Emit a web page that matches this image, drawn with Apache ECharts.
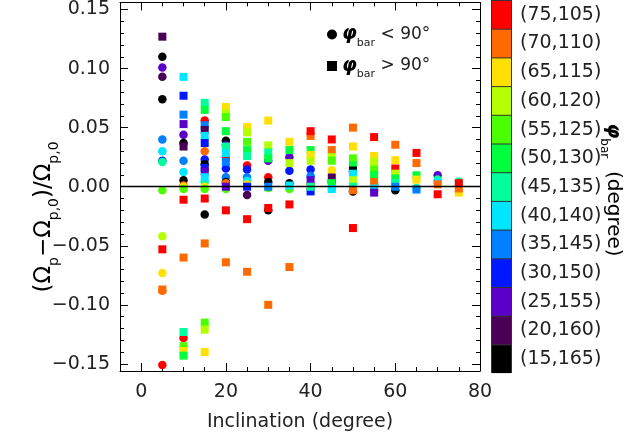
<!DOCTYPE html>
<html>
<head>
<meta charset="utf-8">
<script src="https://cdn.jsdelivr.net/npm/echarts@6/dist/echarts.min.js"></script>
<style>
  html, body { margin: 0; padding: 0; background: #fff; }
  #main { width: 635px; height: 445px; }
</style>
</head>
<body>
<div id="main"></div>
<script>
// phi_bar bins (legend of the colour bar), bottom -> top
var phiBins = ['(15,165)', '(20,160)', '(25,155)', '(30,150)', '(35,145)', '(40,140)', '(45,135)',
               '(50,130)', '(55,125)', '(60,120)', '(65,115)', '(70,110)', '(75,105)'];
var binColors = ['#000000', '#4b0058', '#5a00c8', '#0018ff', '#0080ff', '#00e6ff', '#00ff9c',
                 '#00ff3c', '#4cff00', '#b4ff00', '#ffe000', '#ff6a00', '#ff0000'];

// [inclination, (Op-Op0)/Op0, bin index]  phi_bar < 90 (circles)
var circlePts = [
    [5, 0.110, 0], [5, 0.101, 2], [5, 0.093, 1], [5, 0.074, 0], [5, 0.040, 4], [5, 0.030, 5],
    [5, 0.022, 3], [5, 0.021, 6], [5, -0.003, 8], [5, -0.042, 9], [5, -0.073, 10], [5, -0.088, 11], [5, -0.151, 12],
    [10, 0.044, 2], [10, 0.037, 0], [10, 0.022, 4], [10, 0.0125, 5], [10, 0.0055, 0], [10, 0.001, 11],
    [10, 0.000, 10], [10, -0.002, 8], [10, -0.128, 12],
    [15, 0.056, 12], [15, 0.030, 11], [15, 0.023, 3], [15, 0.019, 0], [15, 0.004, 6], [15, 0.000, 10],
    [15, -0.002, 8], [15, -0.0235, 0],
    [20, 0.039, 0], [20, 0.035, 2], [20, 0.0155, 3], [20, 0.008, 4], [20, 0.004, 0], [20, 0.003, 11], [20, -0.002, 8],
    [25, 0.018, 12], [25, 0.0145, 3], [25, 0.008, 4], [25, 0.005, 5], [25, 0.002, 10], [25, -0.007, 1],
    [30, 0.022, 2], [30, 0.008, 12], [30, 0.004, 0], [30, -0.001, 8], [30, -0.020, 0],
    [35, 0.025, 2], [35, 0.0135, 3], [35, 0.003, 0], [35, -0.002, 8],
    [40, 0.0145, 3], [40, 0.009, 4], [40, 0.002, 11], [40, -0.002, 9],
    [45, 0.014, 10], [45, 0.004, 0], [45, -0.002, 7],
    [50, 0.013, 2], [50, -0.004, 0],
    [55, 0.002, 4], [55, -0.003, 12],
    [60, -0.003, 0],
    [65, -0.001, 6],
    [70, 0.0097, 2], [70, 0.006, 6], [70, 0.004, 5],
    [75, 0.0045, 6]
];

// phi_bar > 90 (squares)
var squarePts = [
    [5, 0.127, 1], [5, -0.053, 12], [5, -0.087, 11],
    [10, 0.093, 5], [10, 0.077, 3], [10, 0.061, 4], [10, 0.053, 2], [10, 0.034, 1], [10, -0.011, 12],
    [10, -0.060, 11], [10, -0.123, 6], [10, -0.135, 8], [10, -0.139, 10], [10, -0.143, 7],
    [15, 0.071, 6], [15, 0.065, 7], [15, 0.052, 4], [15, 0.048, 1], [15, 0.043, 5], [15, 0.037, 3],
    [15, 0.016, 3], [15, 0.013, 2], [15, 0.008, 5], [15, -0.010, 12], [15, -0.048, 11],
    [15, -0.115, 8], [15, -0.121, 9], [15, -0.140, 10],
    [20, 0.025, 12], [20, 0.0675, 10], [20, 0.062, 9], [20, 0.059, 8], [20, 0.047, 7], [20, 0.034, 6],
    [20, 0.0285, 5], [20, 0.021, 4], [20, 0.000, 2], [20, -0.020, 12], [20, -0.064, 11],
    [25, 0.0505, 10], [25, 0.046, 9], [25, 0.038, 8], [25, 0.031, 7], [25, 0.026, 6], [25, 0.000, 3],
    [25, -0.0275, 12], [25, -0.072, 11],
    [30, 0.056, 10], [30, 0.035, 9], [30, 0.029, 6], [30, 0.024, 7], [30, 0.000, 4], [30, -0.018, 12], [30, -0.100, 11],
    [35, 0.038, 10], [35, 0.031, 7], [35, 0.020, 9], [35, 0.001, 5], [35, -0.015, 12], [35, -0.068, 11],
    [40, 0.043, 11], [40, 0.047, 12], [40, 0.031, 7], [40, 0.027, 10], [40, 0.022, 9], [40, 0.0055, 2],
    [40, -0.004, 3], [40, 0.000, 6],
    [45, 0.040, 12], [45, 0.031, 11], [45, 0.025, 9], [45, 0.022, 8], [45, 0.0078, 1], [45, 0.003, 7], [45, -0.002, 5],
    [50, 0.050, 11], [50, 0.034, 10], [50, 0.024, 8], [50, 0.018, 7], [50, 0.0137, 0], [50, 0.011, 5],
    [50, 0.0055, 9], [50, 0.000, 6], [50, -0.003, 11], [50, -0.035, 12],
    [55, 0.042, 12], [55, 0.026, 10], [55, 0.021, 9], [55, 0.0145, 8], [55, 0.0097, 7], [55, 0.004, 11],
    [55, -0.0015, 5], [55, -0.005, 2],
    [60, 0.0355, 11], [60, 0.0224, 10], [60, 0.0154, 12], [60, 0.011, 9], [60, 0.007, 7], [60, 0.003, 6], [60, 0.000, 4],
    [65, 0.0286, 12], [65, 0.020, 11], [65, 0.0097, 7], [65, 0.006, 10], [65, -0.0024, 4],
    [70, 0.002, 11], [70, -0.0064, 12],
    [75, -0.005, 10], [75, -0.0015, 11], [75, 0.003, 12]
];

// tick labels
var xTickLabels = [0, 20, 40, 60, 80];
var yTickLabels = [-0.15, -0.10, -0.05, 0.00, 0.05, 0.10, 0.15];

var xMinor = [];
for (var i = -5; i <= 80; i += 5) xMinor.push(i);
var yMinor = [];
for (var j = -15; j <= 15; j++) yMinor.push(j / 100);

var FONT = 'DejaVu Sans';
var TXT = '#222';

function fmtY(v) {
    return (v < 0 ? '\u2212' : '') + Math.abs(v).toFixed(2);
}

function xAx(pos, ticks, len, showLine, showLabel) {
    return {
        type: 'value', position: pos, min: -5, max: 80,
        axisLine: { show: showLine, onZero: false, lineStyle: { color: '#000', width: 1 } },
        axisTick: { inside: true, length: len, customValues: ticks, lineStyle: { color: '#000' } },
        axisLabel: { show: showLabel, customValues: xTickLabels, margin: 12,
                     fontFamily: FONT, fontSize: 19, color: TXT },
        splitLine: { show: false }
    };
}
function yAx(pos, ticks, len, showLine, showLabel) {
    return {
        type: 'value', position: pos, min: -0.156, max: 0.156,
        axisLine: { show: showLine, onZero: false, lineStyle: { color: '#000', width: 1 } },
        axisTick: { inside: true, length: len, customValues: ticks, lineStyle: { color: '#000' } },
        axisLabel: { show: showLabel, customValues: yTickLabels, margin: 10, formatter: fmtY,
                     fontFamily: FONT, fontSize: 19, color: TXT },
        splitLine: { show: false }
    };
}

var xAxes = [
    xAx('bottom', xMinor, 4, true, true),
    xAx('bottom', xTickLabels, 8, false, false),
    xAx('top', xMinor, 4, true, false),
    xAx('top', xTickLabels, 8, false, false)
];
xAxes[0].name = 'Inclination (degree)';
xAxes[0].nameLocation = 'middle';
xAxes[0].nameGap = 42;
xAxes[0].nameTextStyle = { fontFamily: FONT, fontSize: 19, color: TXT };

var yAxes = [
    yAx('left', yMinor, 4, true, true),
    yAx('left', yTickLabels, 8, false, false),
    yAx('right', yMinor, 4, true, false),
    yAx('right', yTickLabels, 8, false, false)
];

var subRich = {
    t: { fontFamily: FONT, fontSize: 20, color: TXT, lineHeight: 30 },
    s: { fontFamily: FONT, fontSize: 12, color: TXT, verticalAlign: 'bottom', lineHeight: 12 },
    phi: { fontFamily: FONT, fontSize: 19, color: '#000', fontStyle: 'italic', fontWeight: 'bold', lineHeight: 28 }
};
var titleRich = {
    t: { fontFamily: FONT, fontSize: 23, color: TXT, lineHeight: 34 },
    s: { fontFamily: FONT, fontSize: 14, color: TXT, verticalAlign: 'bottom', lineHeight: 14 }
};

var myChart = echarts.init(document.getElementById('main'), null, { renderer: 'canvas' });
var option = {
    animation: false,
    backgroundColor: '#fff',
    grid: { left: 120, right: 155, top: 1, bottom: 74, containLabel: false },
    xAxis: xAxes,
    yAxis: yAxes,
    legend: {
        orient: 'vertical', left: 322, top: 20, itemWidth: 10, itemHeight: 10, itemGap: 8,
        selectedMode: false,
        data: ['lt', 'gt'],
        formatter: function (name) {
            return name === 'lt' ? '{phi|\u03c6}{s|bar}{t| < 90\u00b0}' : '{phi|\u03c6}{s|bar}{t| > 90\u00b0}';
        },
        textStyle: { rich: {
            t: { fontFamily: FONT, fontSize: 17, color: TXT, lineHeight: 28 },
            s: { fontFamily: FONT, fontSize: 11, color: TXT, verticalAlign: 'bottom', lineHeight: 11 },
            phi: subRich.phi
        } }
    },
    visualMap: {
        type: 'piecewise', dimension: 2, seriesIndex: [0, 1],
        orient: 'vertical', align: 'left', left: 491, top: 0, padding: 1,
        itemWidth: 19, itemHeight: 27.7, itemGap: 1, itemSymbol: 'rect', textGap: 9,
        selectedMode: false, hoverLink: false,
        textStyle: { fontFamily: FONT, fontSize: 19, color: TXT },
        pieces: phiBins.map(function (l, k) { return { value: k, label: l, color: binColors[k] }; })
    },
    graphic: [
        { type: 'rect', left: 491, top: 0, z: 0, shape: { width: 21, height: 373 }, style: { fill: '#333' } },
        {
            type: 'text', x: 44, y: 217, rotation: Math.PI / 2,
            style: {
                text: '{t|(\u03a9}{s|p}{t|\u2212\u03a9}{s|p,0}{t|)/\u03a9}{s|p,0}',
                rich: titleRich, align: 'center', verticalAlign: 'middle'
            }
        },
        {
            type: 'text', x: 613, y: 190, rotation: -Math.PI / 2,
            style: {
                text: '{phi|\u03c6}{s|bar}{t|  (degree)}',
                rich: subRich, align: 'center', verticalAlign: 'middle'
            }
        }
    ],
    series: [
        {
            name: 'lt', type: 'scatter', symbol: 'circle', symbolSize: 8.5,
            xAxisIndex: 0, yAxisIndex: 0,
            itemStyle: { color: '#000', opacity: 1 },
            data: circlePts,
            markLine: {
                silent: true, symbol: 'none', label: { show: false },
                lineStyle: { color: '#000', width: 1.3, type: 'solid' },
                data: [{ yAxis: 0 }]
            }
        },
        {
            name: 'gt', type: 'scatter', symbol: 'rect', symbolSize: 8,
            xAxisIndex: 0, yAxisIndex: 0,
            itemStyle: { color: '#000', opacity: 1 },
            data: squarePts
        }
    ]
};
myChart.setOption(option);
</script>
</body>
</html>
